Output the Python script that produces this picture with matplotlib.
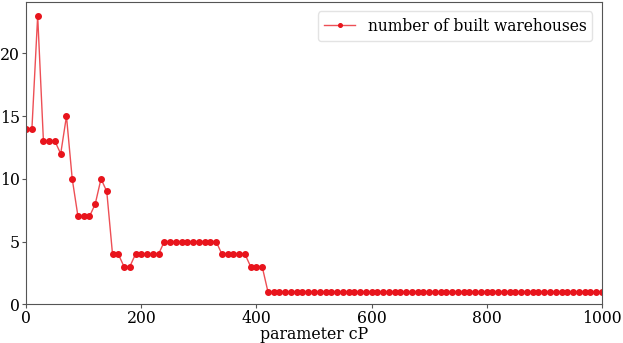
import matplotlib
matplotlib.use("Agg")
import matplotlib.pyplot as plt

cp_values = list(range(0, 1001, 10))
warehouses = ([14, 14, 23, 13, 13, 13, 12, 15, 10, 7, 7, 7, 8, 10, 9, 4, 4, 3, 3,
               4, 4, 4, 4, 4]
              + [5] * 10 + [4] * 5 + [3] * 3)
warehouses += [1] * (len(cp_values) - len(warehouses))

plt.rcParams['font.family'] = 'DejaVu Serif'
fig = plt.figure(figsize=(6.23, 3.43), dpi=100)
ax = fig.add_axes([0.042, 0.113, 0.924, 0.881])
ax.plot(cp_values, warehouses, color=(0.91, 0.08, 0.11, 0.75), marker='o',
        markersize=4.0, markerfacecolor='#e8141c', markeredgecolor='#e8141c',
        linewidth=1, label='number of built warehouses')
ax.set_xlim(0, 1000)
ax.set_ylim(0, 24.1)
ax.set_yticks([0, 5, 10, 15, 20])
ax.set_xticks([0, 200, 400, 600, 800, 1000])
ax.tick_params(labelsize=11.3, length=3, color='#555555', pad=1.5)
for s in ax.spines.values():
    s.set_color('#555555')
ax.set_xlabel('parameter cP', fontsize=11.3, labelpad=-1)
ax.legend(loc='upper right', fontsize=11.2, framealpha=0.8, edgecolor='#dddddd',
          borderaxespad=0.6, markerscale=0.65)
fig.savefig('out.png', dpi=100)
